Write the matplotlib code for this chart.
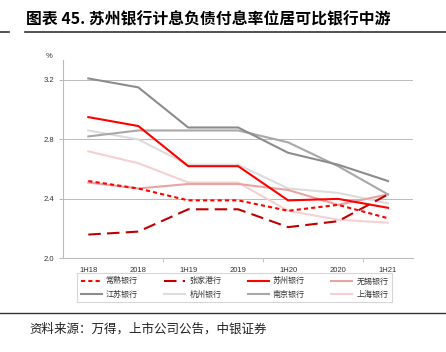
import matplotlib
matplotlib.use("Agg")
import matplotlib.pyplot as plt
from matplotlib.lines import Line2D

plt.rcParams['font.family'] = ['Liberation Sans', 'Noto Sans CJK SC', 'DejaVu Sans']

# Data (%)
periods = ["1H18", "2018", "1H19", "2019", "1H20", "2020", "1H21"]
changshu = [2.52, 2.47, 2.39, 2.39, 2.32, 2.36, 2.27]
zhangjiagang = [2.16, 2.18, 2.33, 2.33, 2.21, 2.25, 2.43]
suzhou = [2.95, 2.89, 2.62, 2.62, 2.39, 2.40, 2.34]
wuxi = [2.51, 2.47, 2.50, 2.50, 2.46, 2.36, 2.43]
jiangsu = [3.21, 3.15, 2.88, 2.88, 2.71, 2.63, 2.52]
hangzhou = [2.86, 2.80, 2.63, 2.63, 2.47, 2.44, 2.37]
nanjing = [2.82, 2.86, 2.86, 2.86, 2.78, 2.62, 2.43]
shanghai = [2.72, 2.64, 2.51, 2.51, 2.32, 2.26, 2.24]

fig = plt.figure(figsize=(4.46, 3.52), dpi=100)
ax = fig.add_axes([0.142, 0.266, 0.784, 0.564])

x = list(range(len(periods)))
lines = {}
# draw light lines first so strong ones sit on top
lines["杭州银行"] = ax.plot(x, hangzhou, color="#dcdcdc", lw=1.5)[0]
lines["上海银行"] = ax.plot(x, shanghai, color="#f7cfcf", lw=1.5)[0]
lines["无锡银行"] = ax.plot(x, wuxi, color="#e8a3a3", lw=1.5)[0]
lines["南京银行"] = ax.plot(x, nanjing, color="#a8a8a8", lw=1.5)[0]
lines["江苏银行"] = ax.plot(x, jiangsu, color="#8c8c8c", lw=1.5)[0]
lines["张家港行"] = ax.plot(x, zhangjiagang, color="#c00000", lw=1.5, dashes=(6, 3))[0]
lines["常熟银行"] = ax.plot(x, changshu, color="#ff0000", lw=1.5, dashes=(2, 1.5))[0]
lines["苏州银行"] = ax.plot(x, suzhou, color="#ff0000", lw=1.5)[0]

ax.set_xlim(-0.5, 6.5)
ax.set_ylim(2.0, 3.335)
ax.set_yticks([2.0, 2.4, 2.8, 3.2])
ax.set_yticklabels(["2.0", "2.4", "2.8", "3.2"])
ax.set_xticks(x)
ax.set_xticklabels(periods)
ax.set_xticks([1.5, 3.5, 5.5], minor=True)
ax.tick_params(axis="x", which="major", length=0, labelsize=5.5, pad=6, colors="#333333")
ax.tick_params(axis="x", which="minor", length=3, color="#bbbbbb")
ax.tick_params(axis="y", length=3, labelsize=5.5, colors="#333333", color="#bbbbbb")
ax.grid(axis="y", color="#bbbbbb", lw=0.7)
ax.set_axisbelow(True)
for s in ["top", "right"]:
    ax.spines[s].set_visible(False)
ax.spines["left"].set_color("#bbbbbb")
ax.spines["bottom"].set_color("#bbbbbb")
ax.text(-0.03, 1.0, "%", transform=ax.transAxes, fontsize=5.5, color="#333333",
        ha="right", va="bottom")

# legend: row-major order in the picture, matplotlib fills by column
order = ["常熟银行", "江苏银行", "张家港行", "杭州银行", "苏州银行", "南京银行", "无锡银行", "上海银行"]
leg = fig.legend([lines[k] for k in order], order, ncol=4, loc="center",
                 bbox_to_anchor=(0.526, 0.183), frameon=True,
                 fancybox=False, edgecolor="#cccccc", handlelength=2.6,
                 columnspacing=3.3, handletextpad=0.5, borderpad=0.45,
                 labelspacing=0.55, borderaxespad=0,
                 prop={'family': ['Noto Sans CJK SC'], 'size': 5.8})
leg.get_frame().set_linewidth(0.8)
for t in leg.get_texts():
    t.set_color("#333333")

fig.text(0.058, 0.945, "图表 45. 苏州银行计息负债付息率位居可比银行中游",
         fontsize=11.4, fontweight="bold", va="center", ha="left",
         family=['Noto Sans CJK SC', 'DejaVu Sans'])
fig.add_artist(Line2D([0.056, 1.0], [0.908, 0.908], color="#333333", lw=1.2))
fig.add_artist(Line2D([0.0, 0.02], [0.908, 0.908], color="#333333", lw=1.2))
fig.add_artist(Line2D([0.0, 1.0], [0.111, 0.111], color="#333333", lw=1.0))
fig.text(0.065, 0.066, "资料来源：万得，上市公司公告，中银证券", fontsize=9,
         va="center", ha="left", color="#222222",
         family=['Noto Sans CJK SC', 'DejaVu Sans'])

fig.savefig("out.png", dpi=100)
